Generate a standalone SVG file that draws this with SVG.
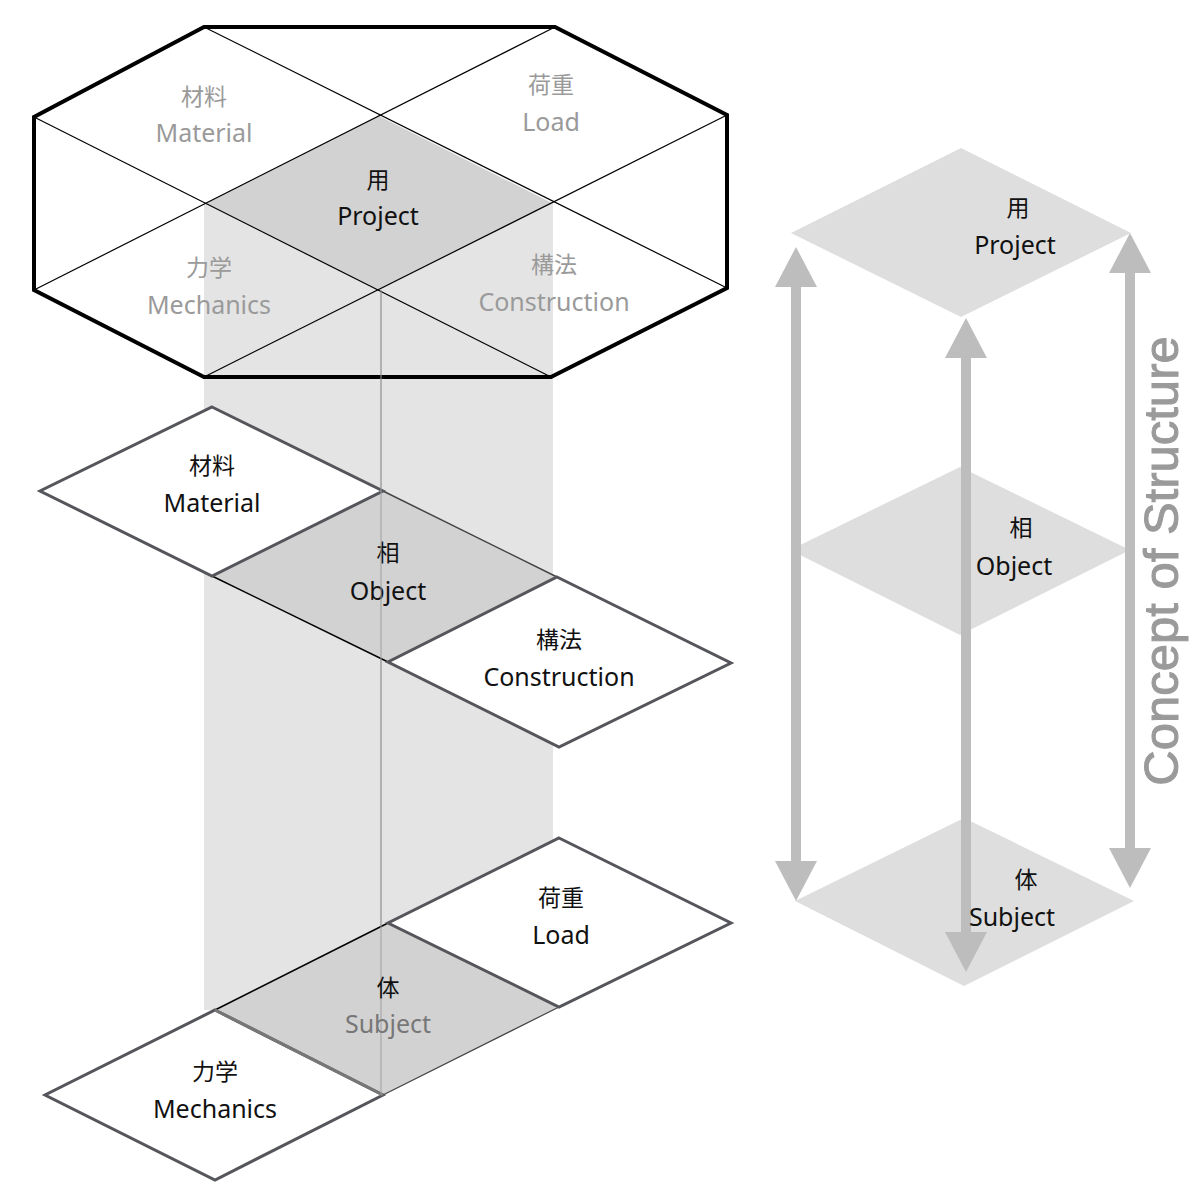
<svg xmlns="http://www.w3.org/2000/svg" width="1202" height="1202" viewBox="0 0 1202 1202">
<defs>
<style>
.lat{font-family:"Noto Sans","Noto Sans CJK JP",sans-serif;font-size:25px;text-anchor:middle;}
.cjk{font-family:"Noto Sans CJK JP","Noto Sans",sans-serif;font-size:23px;text-anchor:middle;}
.dim{fill:#9a9a9a;}
.blk{fill:#111;}
.thin{fill:none;stroke:#000;stroke-width:1.2;}
.tile{fill:#fff;stroke:#55565b;stroke-width:3;stroke-linejoin:miter;}
.core{fill:#d2d2d2;stroke:none;}
.light{fill:#dedede;stroke:none;}
.arrow{stroke:#bdbdbd;stroke-width:10;fill:none;marker-start:url(#ah);marker-end:url(#ah);}
</style>
<marker id="ah" viewBox="0 0 40 42" markerWidth="40" markerHeight="42" refX="0" refY="21" orient="auto-start-reverse" markerUnits="userSpaceOnUse">
<path d="M0,0 L40,21 L0,42 Z" fill="#bdbdbd"/>
</marker>
</defs>
<rect width="1202" height="1202" fill="#fff"/>

<g id="top-octagon">
<polygon points="204,27 555,27 727,115 727,288 551,377 204,377 34,290 34,117" fill="#fff"/>
<rect x="204" y="203" width="349" height="807" fill="#e4e4e4"/>
<polygon class="core" points="379,116 552,203 379,290 205,203"/>
<line x1="381" y1="290" x2="381" y2="1095" stroke="#a0a0a0" stroke-width="1"/>
<line class="thin" x1="204" y1="27" x2="727" y2="288"/>
<line class="thin" x1="555" y1="27" x2="34" y2="290"/>
<line class="thin" x1="34" y1="117" x2="551" y2="377"/>
<line class="thin" x1="727" y1="115" x2="204" y2="377"/>
<polygon points="204,27 555,27 727,115 727,288 551,377 204,377 34,290 34,117" fill="none" stroke="#000" stroke-width="4"/>
<text class="cjk dim" x="204" y="105">材料</text>
<text class="lat dim" x="204" y="142">Material</text>
<text class="cjk dim" x="551" y="93">荷重</text>
<text class="lat dim" x="551" y="131">Load</text>
<text class="cjk blk" x="378" y="188">用</text>
<text class="lat blk" x="378" y="225">Project</text>
<text class="cjk dim" x="209" y="276">力学</text>
<text class="lat dim" x="209" y="314">Mechanics</text>
<text class="cjk dim" x="554" y="273">構法</text>
<text class="lat dim" x="554" y="311">Construction</text>
</g>

<g id="mid-object">
<polygon class="core" points="383,491 557,577 388,662 212,576"/>
<line x1="383" y1="491" x2="557" y2="577" stroke="#444" stroke-width="1.5"/>
<line x1="212" y1="576" x2="388" y2="662" stroke="#000" stroke-width="1.5"/>
<text class="cjk blk" x="388" y="561">相</text>
<text class="lat blk" x="388" y="600">Object</text>
</g>
<g id="mid-material">
<polygon class="tile" points="212,407 383,491 212,576 40,491"/>
<text class="cjk blk" x="212" y="474">材料</text>
<text class="lat blk" x="212" y="512">Material</text>
</g>
<g id="mid-construction">
<polygon class="tile" points="557,577 731,663 559,747 388,662"/>
<text class="cjk blk" x="559" y="648">構法</text>
<text class="lat blk" x="559" y="686">Construction</text>
</g>

<g id="bot-subject">
<polygon class="core" points="388,923 559,1007 383,1095 215,1010"/>
<line x1="388" y1="923" x2="215" y2="1010" stroke="#000" stroke-width="1.5"/>
<line x1="559" y1="1007" x2="383" y2="1095" stroke="#444" stroke-width="1.2"/>
</g>
<g id="bot-load">
<polygon class="tile" points="559,838 731,923 559,1007 388,923"/>
<text class="cjk blk" x="561" y="906">荷重</text>
<text class="lat blk" x="561" y="944">Load</text>
</g>
<g id="bot-mechanics">
<polygon class="tile" points="215,1010 383,1095 215,1180 45,1095"/>
<line x1="215" y1="1010" x2="383" y2="1095" stroke="#777" stroke-width="3"/>
<text class="cjk blk" x="215" y="1080">力学</text>
<text class="lat blk" x="215" y="1118">Mechanics</text>
</g>
<line x1="381" y1="290" x2="381" y2="1095" stroke="#a0a0a0" stroke-width="1"/>
<g id="bot-subject-label">
<text class="cjk blk" x="388" y="996">体</text>
<text class="lat" x="388" y="1033" fill="#777">Subject</text>
</g>

<g id="r-project"><polygon class="light" points="961,148 1131,233 961,317 791,233"/></g>
<g id="r-object"><polygon class="light" points="960,467 1130,550 960,635 790,550"/></g>
<g id="r-subject"><polygon class="light" points="964,818 1134,901 964,986 795,901"/></g>

<g id="connectors">
<line class="arrow" x1="796" y1="287" x2="796" y2="861"/>
<line class="arrow" x1="966" y1="358" x2="966" y2="932"/>
<line class="arrow" x1="1130" y1="273" x2="1130" y2="848"/>
</g>

<g id="r-labels">
<text class="cjk blk" x="1018" y="216">用</text>
<text class="lat blk" x="1015" y="254">Project</text>
<text class="cjk blk" x="1021" y="536">相</text>
<text class="lat blk" x="1014" y="575">Object</text>
<text class="cjk blk" x="1026" y="888">体</text>
<text class="lat blk" x="1012" y="926">Subject</text>
</g>

<text transform="translate(1178,561) rotate(-90)" x="0" y="0" font-family="'Liberation Sans',Arial,sans-serif" font-size="49" fill="#9a9a9a" stroke="#9a9a9a" stroke-width="1" text-anchor="middle">Concept of Structure</text>
</svg>
